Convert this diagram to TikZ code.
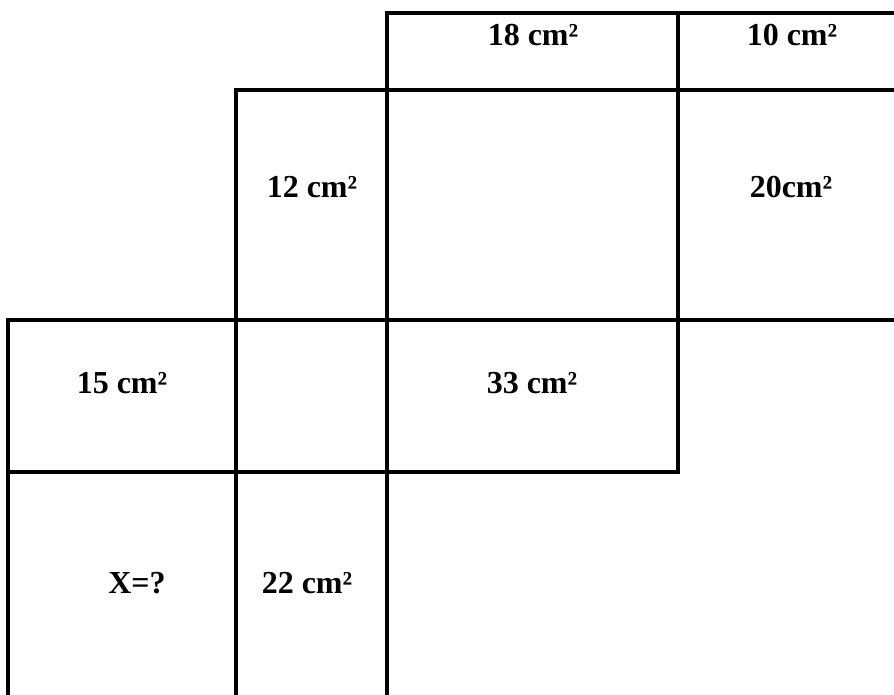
\documentclass[tikz,border=0pt]{standalone}
\usepackage{fontspec}
\setmainfont{Liberation Serif}
\begin{document}
\begin{tikzpicture}[x=0.5pt,y=-0.5pt,
  wall/.style={line width=1.65pt,line cap=rect},
  lbl/.style={anchor=base,inner sep=0pt,font=\fontsize{16}{19}\selectfont\bfseries}]
\useasboundingbox (0,0) rectangle (894,695);
% horizontal lines
\draw[wall] (387,13) -- (894,13);
\draw[wall] (236,90) -- (894,90);
\draw[wall] (8,320) -- (894,320);
\draw[wall] (8,472) -- (678,472);
% vertical lines
\draw[wall] (387,13) -- (387,695);
\draw[wall] (678,13) -- (678,472);
\draw[wall] (236,90) -- (236,695);
\draw[wall] (8,320) -- (8,695);
% labels
\node[lbl] (a) at (533,46) {18 cm²};
\node[lbl] (b) at (792,46) {10 cm²};
\node[lbl] (c) at (312,198) {12 cm²};
\node[lbl] (d) at (791,198) {20cm²};
\node[lbl] (e) at (122,393) {15 cm²};
\node[lbl] (f) at (532,393) {33 cm²};
\node[lbl] (g) at (137,593) {X=?};
\node[lbl] (h) at (307,593) {22 cm²};
\end{tikzpicture}
\end{document}
